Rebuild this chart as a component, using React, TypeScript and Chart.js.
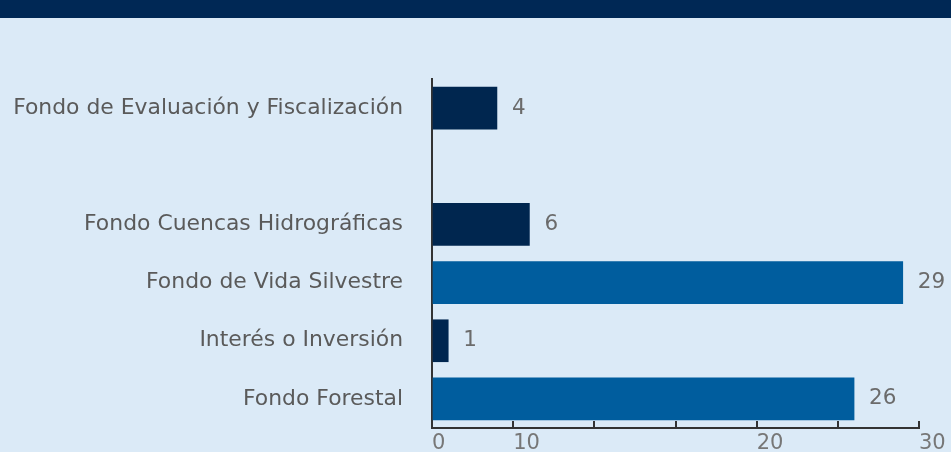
import React, { useEffect, useRef } from "react";
import { Chart, registerables } from "chart.js";

Chart.register(...registerables);

const categories = [
  "Fondo de Evaluación y Fiscalización",
  "",
  "Fondo Cuencas Hidrográficas",
  "Fondo de Vida Silvestre",
  "Interés o Inversión",
  "Fondo Forestal",
];
const values: (number | null)[] = [4, null, 6, 29, 1, 26];
const barColors = ["#00264f", "#00264f", "#00264f", "#005d9e", "#00264f", "#005d9e"];
const xTickLabels = ["0", "10", "", "", "20", "", "30"];

const FONT = "'DejaVu Sans', 'Liberation Sans', sans-serif";

const valueLabels = {
  id: "valueLabels",
  afterDatasetsDraw(chart: any) {
    const ctx = chart.ctx;
    const meta = chart.getDatasetMeta(0);
    ctx.save();
    ctx.font = `21.5px ${FONT}`;
    ctx.fillStyle = "#6b6b6b";
    ctx.textAlign = "left";
    ctx.textBaseline = "middle";
    meta.data.forEach((el: any, i: number) => {
      const v = values[i];
      if (v === null || v === undefined) return;
      ctx.fillText(String(v), el.x + 15, el.y);
    });
    ctx.restore();
  },
};

export default function App() {
  const ref = useRef<HTMLCanvasElement>(null);
  useEffect(() => {
    document.body.style.margin = "0";
    document.body.style.background = "#dbeaf7";
    const chart = new Chart(ref.current!, {
      type: "bar",
      data: {
        labels: categories,
        datasets: [
          {
            data: values,
            backgroundColor: barColors,
            barThickness: 42,
          },
        ],
      },
      options: {
        indexAxis: "y",
        animation: false,
        responsive: false,
        devicePixelRatio: 1,
        layout: { padding: { top: 61, right: 32, left: 0, bottom: 0 } },
        plugins: { legend: { display: false }, tooltip: { enabled: false } },
        scales: {
          x: {
            min: 0,
            max: 30,
            afterFit: (s: any) => {
              s.height = 24;
              s.paddingLeft = 0;
              s.paddingRight = 0;
            },
            border: { display: true, color: "#333333", width: 2 },
            grid: {
              drawOnChartArea: false,
              drawTicks: true,
              tickLength: -7,
              color: "#333333",
              lineWidth: 2,
            },
            ticks: {
              stepSize: 5,
              autoSkip: false,
              align: "start",
              padding: 10,
              maxRotation: 0,
              color: "#777777",
              font: { family: FONT, size: 21 },
              callback: (_v: any, i: number) => xTickLabels[i],
            },
          },
          y: {
            afterFit: (s: any) => {
              s.width = 432;
              s.paddingTop = 0;
              s.paddingBottom = 0;
            },
            border: { display: true, color: "#333333", width: 2 },
            grid: { display: false, drawTicks: false },
            ticks: {
              padding: 29,
              color: "#5a5a5a",
              font: { family: FONT, size: 21.9 },
            },
          },
        },
      },
      plugins: [valueLabels],
    });
    return () => chart.destroy();
  }, []);
  return (
    <div style={{ width: 951, height: 452, background: "#dbeaf7" }}>
      <div style={{ height: 18, background: "#002855" }} />
      <canvas ref={ref} width={951} height={434} style={{ display: "block" }} />
    </div>
  );
}
